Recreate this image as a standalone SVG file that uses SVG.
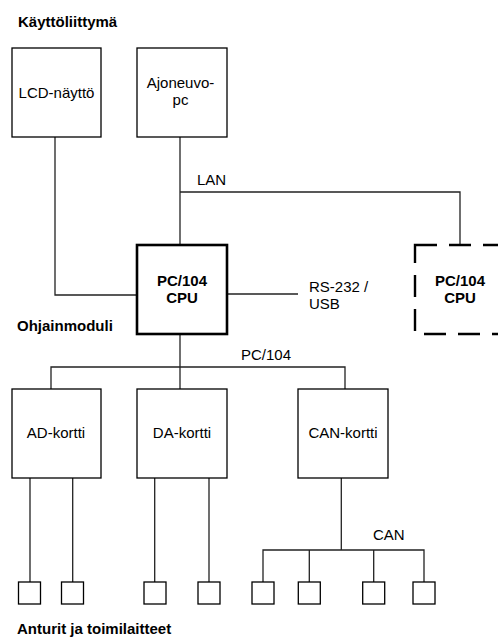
<svg xmlns="http://www.w3.org/2000/svg" width="498" height="637" viewBox="0 0 498 637">
<style>
text{font-family:"Liberation Sans",Arial,sans-serif;font-size:15px;fill:#000}
.b{font-weight:bold}
.m{text-anchor:middle}
.box{fill:#fff;stroke:#000;stroke-width:1.3}
.thick{fill:#fff;stroke:#000;stroke-width:2.6}
.dash{fill:#fff;stroke:#000;stroke-width:2.4;stroke-dasharray:22 12}
.ln{fill:none;stroke:#222;stroke-width:1.3}
</style>
<rect width="498" height="637" fill="#fff"/>
<text class="b" x="18" y="27">Käyttöliittymä</text>
<text class="b" x="17" y="331">Ohjainmoduli</text>
<text class="b" x="17" y="634">Anturit ja toimilaitteet</text>
<g id="connectors">
<path class="ln" d="M55,137V295H137"/>
<path class="ln" d="M180,137V245"/>
<path class="ln" d="M180,192H460V245"/>
<path class="ln" d="M227,294H298"/>
<path class="ln" d="M180,334V367"/>
<path class="ln" d="M51,389V367H345V389"/>
<path class="ln" d="M180,367V389"/>
<path class="ln" d="M30,478V582M72.7,478V582M154.7,478V582M209,478V582"/>
<path class="ln" d="M341.3,478V550"/>
<path class="ln" d="M263,582V550H424V582M309.3,550V582M373.7,550V582"/>
<text x="197" y="185">LAN</text>
<text x="309" y="292">RS-232 /</text>
<text x="309" y="309">USB</text>
<text x="241" y="360">PC/104</text>
<text x="373" y="540">CAN</text>
</g>
<g id="lcd"><rect class="box" x="12" y="48" width="89" height="89"/><text class="m" x="56.5" y="98">LCD-näyttö</text></g>
<g id="ajoneuvo"><rect class="box" x="137" y="48" width="90" height="89"/><text class="m" x="180.5" y="88">Ajoneuvo-</text><text class="m" x="180.5" y="105">pc</text></g>
<g id="cpu"><rect class="thick" x="137" y="245" width="90" height="89"/><text class="b m" x="182" y="286">PC/104</text><text class="b m" x="182" y="303">CPU</text></g>
<g id="cpu2"><rect class="dash" x="415" y="245" width="90" height="89"/><text class="b m" x="460" y="286">PC/104</text><text class="b m" x="460" y="303">CPU</text></g>
<g id="ad"><rect class="box" x="12" y="389" width="89" height="89"/><text class="m" x="56" y="438">AD-kortti</text></g>
<g id="da"><rect class="box" x="137" y="389" width="90" height="89"/><text class="m" x="182" y="438">DA-kortti</text></g>
<g id="can"><rect class="box" x="298" y="389" width="90" height="89"/><text class="m" x="343" y="438">CAN-kortti</text></g>
<g id="s1"><rect class="box" x="18.5" y="582" width="22" height="22"/></g>
<g id="s2"><rect class="box" x="61.5" y="582" width="22" height="22"/></g>
<g id="s3"><rect class="box" x="144" y="582" width="22" height="22"/></g>
<g id="s4"><rect class="box" x="198" y="582" width="22" height="22"/></g>
<g id="s5"><rect class="box" x="252" y="582" width="22" height="22"/></g>
<g id="s6"><rect class="box" x="298.3" y="582" width="22" height="22"/></g>
<g id="s7"><rect class="box" x="362.7" y="582" width="22" height="22"/></g>
<g id="s8"><rect class="box" x="413" y="582" width="22" height="22"/></g>
</svg>
